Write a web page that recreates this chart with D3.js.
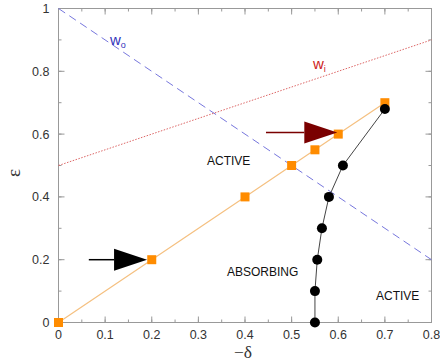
<!DOCTYPE html>
<html>
<head>
<meta charset="utf-8">
<script src="https://cdn.jsdelivr.net/npm/d3@7"></script>
<style>
  body { margin: 0; background: #fff; }
  svg { display: block; font-family: "Liberation Sans", Arial, sans-serif; }
</style>
</head>
<body>
<svg id="chart" width="440" height="361"></svg>
<script>
// Phase boundary data (-delta, epsilon)
const squareX = [0, 0.2, 0.4, 0.5, 0.55, 0.6, 0.7];
const squareY = [0, 0.2, 0.4, 0.5, 0.55, 0.6, 0.7];
const circleX = [0.55, 0.55, 0.555, 0.565, 0.58, 0.61, 0.7];
const circleY = [0, 0.1, 0.2, 0.3, 0.4, 0.5, 0.68];

// Reference lines w_o and w_i (endpoints in data units)
const woX = [0, 0.8], woY = [1, 0.2];
const wiX = [0, 0.8], wiY = [0.5, 0.9];

// Arrow annotations: start x, tip x, y
const arrowBlack = [0.065, 0.19, 0.2];
const arrowRed = [0.445, 0.598, 0.605];

const xTicks = [0, 0.1, 0.2, 0.3, 0.4, 0.5, 0.6, 0.7, 0.8];
const yTicks = [0, 0.2, 0.4, 0.6, 0.8, 1];
const xMinor = d3.range(0, 0.8001, 0.05);
const yMinor = d3.range(0, 1.0001, 0.1);

const svg = d3.select("#chart");
const L = 58.5, R = 431.5, T = 8.5, B = 322.5;
const x = d3.scaleLinear().domain([0, 0.8]).range([L, R]);
const y = d3.scaleLinear().domain([0, 1]).range([B, T]);

const frameColor = "#999";
const g = svg.append("g");

// Frame
g.append("rect").attr("x", L).attr("y", T).attr("width", R - L).attr("height", B - T)
  .attr("fill", "none").attr("stroke", frameColor).attr("stroke-width", 1);

// Inward ticks on all four sides
function ticks(vals, len, axis) {
  vals.forEach(v => {
    if (axis === "x") {
      const px = x(v);
      g.append("line").attr("x1", px).attr("x2", px).attr("y1", B).attr("y2", B - len).attr("stroke", frameColor);
      g.append("line").attr("x1", px).attr("x2", px).attr("y1", T).attr("y2", T + len).attr("stroke", frameColor);
    } else {
      const py = y(v);
      g.append("line").attr("y1", py).attr("y2", py).attr("x1", L).attr("x2", L + len).attr("stroke", frameColor);
      g.append("line").attr("y1", py).attr("y2", py).attr("x1", R).attr("x2", R - len).attr("stroke", frameColor);
    }
  });
}
ticks(xMinor, 3, "x");
ticks(xTicks, 6, "x");
ticks(yMinor, 3, "y");
ticks(yTicks, 6, "y");

// Tick labels
const fmt = d => d === 0 ? "0" : d === 1 ? "1" : String(d);
g.selectAll(".xl").data(xTicks).join("text")
  .attr("x", d => x(d)).attr("y", B + 16).attr("text-anchor", "middle")
  .attr("font-size", 12.5).attr("fill", "#333").text(fmt);
g.selectAll(".yl").data(yTicks).join("text")
  .attr("x", L - 9).attr("y", d => y(d) + 4.5).attr("text-anchor", "end")
  .attr("font-size", 12.5).attr("fill", "#333").text(fmt);

// Axis titles
svg.append("text").attr("transform", "translate(20,173) rotate(-90)")
  .attr("text-anchor", "middle").attr("font-family", "Liberation Serif, serif")
  .attr("font-size", 19).attr("fill", "#333").text("ε");
svg.append("text").attr("x", 243).attr("y", 358).attr("text-anchor", "middle")
  .attr("font-family", "Liberation Serif, serif").attr("font-size", 17.5).attr("fill", "#333").text("−δ");

// w_o and w_i lines
const line = d3.line().x(d => x(d[0])).y(d => y(d[1]));
g.append("path").datum(d3.zip(woX, woY)).attr("d", line)
  .attr("fill", "none").attr("stroke", "#7777dd").attr("stroke-width", 1).attr("stroke-dasharray", "8,5");
g.append("path").datum(d3.zip(wiX, wiY)).attr("d", line)
  .attr("fill", "none").attr("stroke", "#dd6666").attr("stroke-width", 1).attr("stroke-dasharray", "1.5,1.5");

// Line labels
const wo = svg.append("text").attr("x", 110).attr("y", 45).attr("font-size", 15).attr("fill", "#3333bb");
wo.append("tspan").text("w");
wo.append("tspan").attr("font-size", 9).attr("dy", 3).text("o");
const wi = svg.append("text").attr("x", 313).attr("y", 69).attr("font-size", 15).attr("fill", "#cc2222");
wi.append("tspan").text("w");
wi.append("tspan").attr("font-size", 9).attr("dy", 3).text("i");

// Orange boundary with square markers
g.append("path").datum(d3.zip(squareX, squareY)).attr("d", line)
  .attr("fill", "none").attr("stroke", "#f5c080").attr("stroke-width", 1.2);
g.selectAll(".sq").data(d3.zip(squareX, squareY)).join("rect")
  .attr("x", d => x(d[0]) - 4.5).attr("y", d => y(d[1]) - 4.5)
  .attr("width", 9).attr("height", 9).attr("fill", "#ff8c00");

// Black boundary with circle markers
g.append("path").datum(d3.zip(circleX, circleY)).attr("d", line)
  .attr("fill", "none").attr("stroke", "#444").attr("stroke-width", 1);
g.selectAll(".ci").data(d3.zip(circleX, circleY)).join("circle")
  .attr("cx", d => x(d[0])).attr("cy", d => y(d[1])).attr("r", 5).attr("fill", "#000");

// Arrows
function arrow(a, color) {
  const [x0, x1, yv] = a;
  const py = y(yv), tip = x(x1), base = tip - 33;
  g.append("line").attr("x1", x(x0)).attr("x2", base).attr("y1", py).attr("y2", py)
    .attr("stroke", color).attr("stroke-width", 1.5);
  g.append("path").attr("d", `M${base},${py - 11}L${tip},${py}L${base},${py + 11}Z`).attr("fill", color);
}
arrow(arrowBlack, "#000");
arrow(arrowRed, "#7a0000");

// Region labels
svg.append("text").attr("x", 207).attr("y", 165).attr("font-size", 12).attr("fill", "#111").text("ACTIVE");
svg.append("text").attr("x", 227).attr("y", 276).attr("font-size", 12).attr("fill", "#111").text("ABSORBING");
svg.append("text").attr("x", 376).attr("y", 300).attr("font-size", 12).attr("fill", "#111").text("ACTIVE");
</script>
</body>
</html>
